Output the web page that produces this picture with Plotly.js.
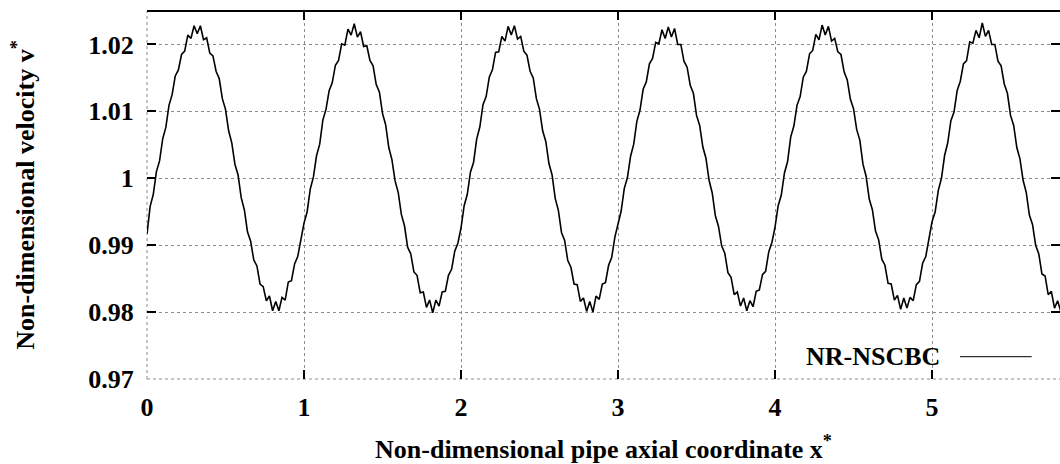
<!DOCTYPE html>
<html>
<head>
<meta charset="utf-8">
<script src="https://cdn.plot.ly/plotly-3.0.1.min.js"></script>
<style>html,body{margin:0;padding:0;background:#fff;}#chart{width:1060px;height:464px;}</style>
</head>
<body>
<div id="chart"></div>
<script>
// Sample spacing of the curve along x*
const xStart = 0;
const xStep = 0.02;

// Non-dimensional velocity v* (6 cycles, last one cut at x* = 5.82)
const cycle1 = [0.9917,0.9958,0.9976,1.0010,1.0026,1.0059,1.0076,1.0109,1.0125,1.0153,1.0162,1.0185,1.0190,1.0214,1.0209,1.0228,1.0216,1.0228,1.0207,1.0210,1.0187,1.0183,1.0160,1.0149,1.0119,1.0103,1.0071,1.0053,1.0021,1.0005,0.9971,0.9953,0.9920,0.9906,0.9878,0.9869,0.9842,0.9838,0.9817,0.9824,0.9802,0.9816,0.9802,0.9822,0.9818,0.9845,0.9847,0.9872,0.9883,0.9911];
const cycle2 = [0.9933,0.9950,0.9984,1.0002,1.0034,1.0051,1.0087,1.0103,1.0131,1.0143,1.0169,1.0176,1.0201,1.0199,1.0223,1.0214,1.0231,1.0211,1.0219,1.0197,1.0198,1.0176,1.0168,1.0140,1.0129,1.0097,1.0080,1.0046,1.0028,0.9996,0.9979,0.9946,0.9929,0.9897,0.9887,0.9860,0.9855,0.9829,0.9830,0.9807,0.9818,0.9799,0.9818,0.9809,0.9830,0.9831,0.9855,0.9864,0.9891,0.9903];
const cycle3 = [0.9926,0.9959,0.9976,1.0009,1.0024,1.0059,1.0077,1.0110,1.0122,1.0151,1.0162,1.0188,1.0189,1.0212,1.0205,1.0227,1.0214,1.0228,1.0208,1.0212,1.0190,1.0184,1.0160,1.0150,1.0119,1.0103,1.0071,1.0055,1.0022,1.0005,0.9970,0.9952,0.9919,0.9907,0.9877,0.9867,0.9842,0.9841,0.9816,0.9821,0.9801,0.9816,0.9800,0.9824,0.9819,0.9842,0.9844,0.9870,0.9882,0.9912];
const cycle4 = [0.9934,0.9951,0.9985,1.0001,1.0033,1.0051,1.0085,1.0102,1.0133,1.0144,1.0171,1.0179,1.0203,1.0201,1.0222,1.0209,1.0226,1.0211,1.0224,1.0200,1.0200,1.0175,1.0166,1.0139,1.0127,1.0094,1.0079,1.0047,1.0030,0.9997,0.9978,0.9944,0.9928,0.9899,0.9888,0.9859,0.9852,0.9826,0.9830,0.9809,0.9821,0.9802,0.9817,0.9808,0.9831,0.9833,0.9856,0.9861,0.9890,0.9904];
const cycle5 = [0.9927,0.9959,0.9975,1.0008,1.0025,1.0062,1.0078,1.0109,1.0122,1.0151,1.0160,1.0186,1.0191,1.0215,1.0207,1.0229,1.0214,1.0227,1.0205,1.0209,1.0189,1.0185,1.0159,1.0147,1.0118,1.0104,1.0073,1.0057,1.0021,1.0003,0.9969,0.9953,0.9921,0.9908,0.9879,0.9870,0.9843,0.9842,0.9818,0.9825,0.9804,0.9821,0.9806,0.9822,0.9817,0.9841,0.9846,0.9873,0.9883,0.9911];
const cycle6 = [0.9935,0.9950,0.9982,1.0000,1.0034,1.0053,1.0086,1.0099,1.0131,1.0145,1.0171,1.0176,1.0204,1.0202,1.0221,1.0210,1.0232,1.0212,1.0221,1.0200,1.0200,1.0175,1.0168,1.0141,1.0127,1.0094,1.0079,1.0046,1.0029,0.9997,0.9979,0.9945,0.9931,0.9900,0.9887,0.9857,0.9854,0.9826,0.9831,0.9806,0.9817,0.9801];

// Tick labels
const xTickVals = [0, 1, 2, 3, 4, 5];
const xTickText = ['0', '1', '2', '3', '4', '5'];
const yTickVals = [0.97, 0.98, 0.99, 1.00, 1.01, 1.02];
const yTickText = ['0.97', '0.98', '0.99', '1', '1.01', '1.02'];
const seriesName = 'NR-NSCBC';

const velocity = [].concat(cycle1, cycle2, cycle3, cycle4, cycle5, cycle6);
const xCoord = velocity.map((_, i) => +(xStart + i * xStep).toFixed(2));

const xRange = [0, 5.815];
const yRange = [0.97, 1.025];

const serif = '"Liberation Serif", "Times New Roman", serif';
const textFont = {family: serif, size: 26, weight: 'bold', color: '#000'};

const trace = {
  x: xCoord, y: velocity, type: 'scatter', mode: 'lines', name: seriesName,
  line: {color: '#000', width: 1.6}, showlegend: false, hoverinfo: 'skip'
};

const axisCommon = {
  ticks: 'inside', ticklen: 9, tickwidth: 2, tickcolor: '#000',
  showline: true, linecolor: 'rgba(0,0,0,0)', linewidth: 1, mirror: 'ticks',
  zeroline: false, tickmode: 'array', tickfont: textFont,
  showgrid: true, gridcolor: '#8c8c8c', griddash: 'dot', gridwidth: 1
};
const edgeGrid = {color: '#8c8c8c', width: 1, dash: 'dot'};

const layout = {
  width: 1060, height: 464,
  margin: {l: 147, r: 0, t: 11, b: 85},
  paper_bgcolor: '#fff', plot_bgcolor: '#fff',
  xaxis: Object.assign({}, axisCommon, {
    range: xRange, tickvals: xTickVals, ticktext: xTickText,
    ticklabelstandoff: 5,
    title: {text: 'Non-dimensional pipe axial coordinate x<sup>*</sup>', font: textFont, standoff: 18}
  }),
  yaxis: Object.assign({}, axisCommon, {
    range: yRange, tickvals: yTickVals, ticktext: yTickText,
    ticklabelstandoff: 7,
    title: {text: 'Non-dimensional velocity v<sup>*</sup>', font: textFont, standoff: 46}
  }),
  shapes: [
    {type: 'line', xref: 'paper', yref: 'paper', x0: 0, x1: 1, y0: 1, y1: 1, line: {color: '#000', width: 2}},
    {type: 'line', xref: 'paper', yref: 'paper', x0: 0, x1: 0, y0: 0, y1: 1, line: edgeGrid, layer: 'below'},
    {type: 'line', xref: 'paper', yref: 'paper', x0: 0, x1: 1, y0: 0, y1: 0, line: edgeGrid, layer: 'below'},
    {type: 'line', xref: 'paper', yref: 'paper', x0: 0.8905, x1: 0.969, y0: 0.0606, y1: 0.0606, line: {color: '#000', width: 1}}
  ],
  annotations: [
    {xref: 'paper', yref: 'paper', x: 0.8708, y: 0.0598, xanchor: 'right', yanchor: 'middle', showarrow: false,
     text: seriesName, font: textFont}
  ]
};

Plotly.newPlot('chart', [trace], layout, {staticPlot: true, displayModeBar: false});
</script>
</body>
</html>
